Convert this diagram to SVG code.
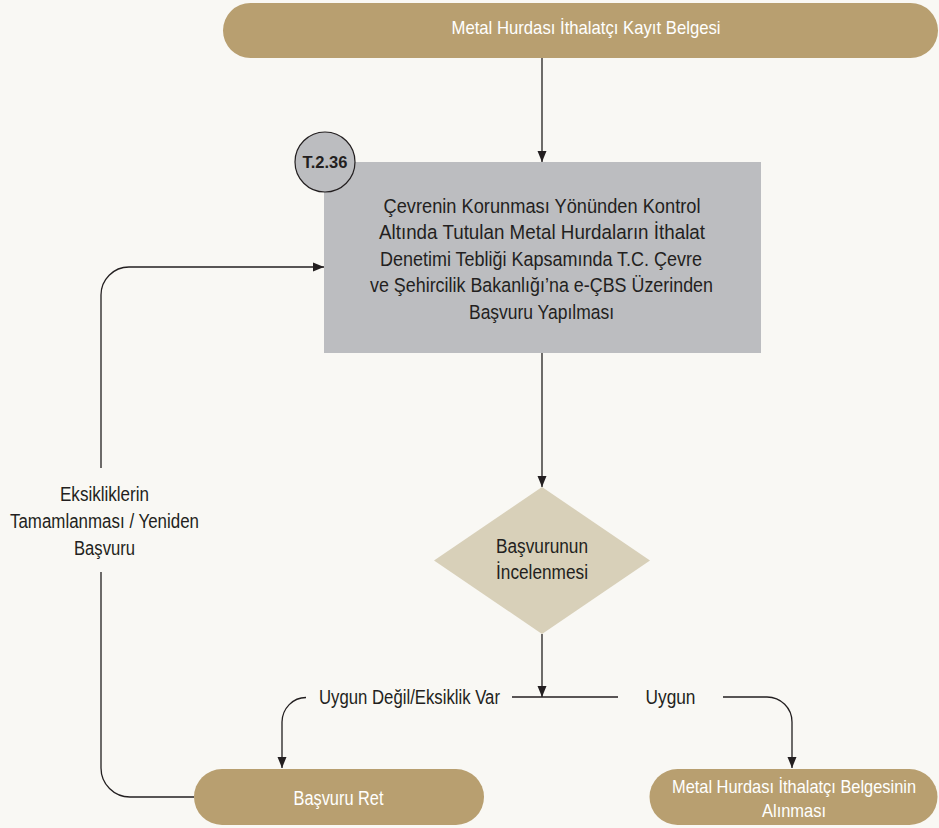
<svg xmlns="http://www.w3.org/2000/svg" width="939" height="828" viewBox="0 0 939 828">
  <defs>
    <style>
      .pill { fill: #b89f70; }
      .box { fill: #bcbdc0; }
      .dia { fill: #d8d0b9; }
      .circ { fill: #bcbdc0; stroke: #231f20; stroke-width: 1.2; }
      .t { font-family: "Liberation Sans Narrow", "Liberation Sans", Arial, sans-serif; fill: #231f20; text-anchor: middle; }
      .w { fill: #ffffff; }
      .b { font-weight: bold; }
      .ln { fill: none; stroke: #231f20; stroke-width: 1.3; }
    </style>
    <marker id="arr" markerUnits="userSpaceOnUse" markerWidth="12" markerHeight="12" viewBox="0 0 12 12" refX="11" refY="6" orient="auto">
      <path d="M0,1.5 L11,6 L0,10.5 Z" fill="#231f20"/>
    </marker>
  </defs>
  <rect width="939" height="828" fill="#f9f8f4"/>

  <g id="connectors">
    <path class="ln" d="M542,58 V162" marker-end="url(#arr)"/>
    <path class="ln" d="M542,353 V487" marker-end="url(#arr)"/>
    <path class="ln" d="M542,634 V697" marker-end="url(#arr)"/>
    <path class="ln" d="M512,697 H618"/>
    <path class="ln" d="M306,697.5 A24,25 0 0 0 282,722 V768" marker-end="url(#arr)"/>
    <path class="ln" d="M723,697 H767 A25,25 0 0 1 792,722 V768" marker-end="url(#arr)"/>
    <path class="ln" d="M194,797 H130 A29,29 0 0 1 101,768 V572"/>
    <path class="ln" d="M101,468 V295 A28,28 0 0 1 129,267 H324" marker-end="url(#arr)"/>
  </g>

  <g id="n-start">
    <rect class="pill" x="223" y="3" width="715" height="55" rx="27.5"/>
    <text class="t w" x="586" y="33.5" font-size="19" textLength="269" lengthAdjust="spacingAndGlyphs">Metal Hurdası İthalatçı Kayıt Belgesi</text>
  </g>

  <g id="n-apply">
    <rect class="box" x="324" y="162" width="437" height="191"/>
    <g class="t" font-size="20.5">
      <text x="542" y="213" textLength="317" lengthAdjust="spacingAndGlyphs">Çevrenin Korunması Yönünden Kontrol</text>
      <text x="542" y="239" textLength="326" lengthAdjust="spacingAndGlyphs">Altında Tutulan Metal Hurdaların İthalat</text>
      <text x="541" y="265.5" textLength="322" lengthAdjust="spacingAndGlyphs">Denetimi Tebliği Kapsamında T.C. Çevre</text>
      <text x="541.5" y="292" textLength="343" lengthAdjust="spacingAndGlyphs">ve Şehircilik Bakanlığı’na e-ÇBS Üzerinden</text>
      <text x="541.5" y="319" textLength="145" lengthAdjust="spacingAndGlyphs">Başvuru Yapılması</text>
    </g>
  </g>

  <g id="n-code">
    <circle class="circ" cx="325" cy="162" r="30"/>
    <text class="t b" x="325" y="168" font-size="16.5" textLength="45" lengthAdjust="spacingAndGlyphs">T.2.36</text>
  </g>

  <g id="n-review">
    <polygon class="dia" points="542,487 650,560.5 542,634 434,560.5"/>
    <text class="t" x="542" y="553" font-size="19.5" textLength="92" lengthAdjust="spacingAndGlyphs">Başvurunun</text>
    <text class="t" x="542" y="579" font-size="19.5" textLength="92" lengthAdjust="spacingAndGlyphs">İncelenmesi</text>
  </g>

  <g id="l-loop">
    <text class="t" x="104.5" y="501" font-size="19.5" textLength="89" lengthAdjust="spacingAndGlyphs">Eksikliklerin</text>
    <text class="t" x="104.5" y="528" font-size="19.5" textLength="189" lengthAdjust="spacingAndGlyphs">Tamamlanması / Yeniden</text>
    <text class="t" x="104.5" y="555" font-size="19.5" textLength="61" lengthAdjust="spacingAndGlyphs">Başvuru</text>
  </g>

  <g id="l-no">
    <text class="t" x="409.5" y="703.5" font-size="19.5" textLength="181" lengthAdjust="spacingAndGlyphs">Uygun Değil/Eksiklik Var</text>
  </g>
  <g id="l-yes">
    <text class="t" x="670.5" y="703.5" font-size="19.5" textLength="50" lengthAdjust="spacingAndGlyphs">Uygun</text>
  </g>

  <g id="n-reject">
    <rect class="pill" x="194" y="769" width="290" height="56" rx="28"/>
    <text class="t w" x="338.5" y="804.5" font-size="19.5" textLength="90" lengthAdjust="spacingAndGlyphs">Başvuru Ret</text>
  </g>

  <g id="n-cert">
    <rect class="pill" x="649.5" y="769" width="288" height="56" rx="28"/>
    <text class="t w" x="794" y="793" font-size="18.5" textLength="244" lengthAdjust="spacingAndGlyphs">Metal Hurdası İthalatçı Belgesinin</text>
    <text class="t w" x="794" y="816.5" font-size="18.5" textLength="64" lengthAdjust="spacingAndGlyphs">Alınması</text>
  </g>
</svg>
